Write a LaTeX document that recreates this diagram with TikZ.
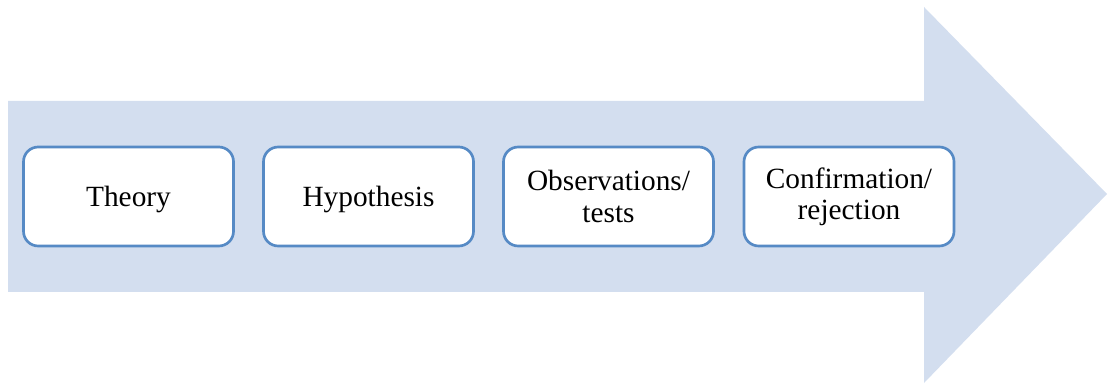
\documentclass[tikz,border=0pt]{standalone}
\usepackage{fontspec}
\setmainfont{Liberation Serif}
\definecolor{arrowfill}{RGB}{211,222,239}
\definecolor{boxline}{RGB}{86,138,197}
\begin{document}
\begin{tikzpicture}[x=0.75pt,y=0.75pt,
  stage/.style={draw=boxline, line width=2pt, fill=white, rounded corners=11pt,
    minimum width=210*0.75pt, minimum height=99*0.75pt, inner sep=0pt,
    align=center, font=\fontsize{22}{23.5}\selectfont},
  oneline/.style={text height=18pt, text depth=3.5pt}]
\useasboundingbox (0,0) rectangle (1109,389);
\fill[arrowfill] (8,288) -- (924,288) -- (924,382) -- (1107,195) -- (924,6) -- (924,97) -- (8,97) -- cycle;
\node[stage, oneline] (theory) at (128.5,192.5) {Theory};
\node[stage, oneline] (hyp) at (368.5,192.5) {Hypothesis};
\node[stage] (obs) at (608.5,192.5) {Observations/\\tests};
\node[stage] (conf) at (849,192.5) {Confirmation/\\rejection};
\end{tikzpicture}
\end{document}
